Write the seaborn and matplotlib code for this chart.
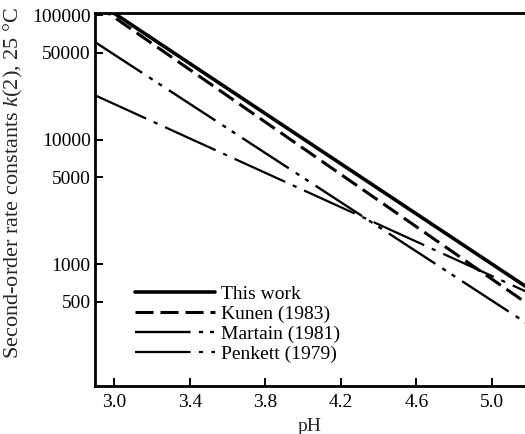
import matplotlib
matplotlib.use("Agg")
import matplotlib.pyplot as plt
import seaborn as sns
import numpy as np

# pH end points of each fitted line and the rate constants at those points
ph_ends = [2.9, 5.2]
k_this_work = [130000, 630]
k_kunen = [122000, 467]
k_martain = [60300, 323]
k_penkett = [22600, 584]

series_names = ["This work", "Kunen (1983)", "Martain (1981)", "Penkett (1979)"]

x_ticks = [3.0, 3.4, 3.8, 4.2, 4.6, 5.0]
x_tick_labels = ["3.0", "3.4", "3.8", "4.2", "4.6", "5.0"]
y_ticks = [500, 1000, 5000, 10000, 50000, 100000]
y_tick_labels = ["500", "1000", "5000", "10000", "50000", "100000"]

sns.set_theme(style="ticks")
plt.rcParams["font.family"] = ["Liberation Serif", "DejaVu Serif"]
plt.rcParams["mathtext.fontset"] = "custom"
plt.rcParams["mathtext.rm"] = "Liberation Serif"
plt.rcParams["mathtext.it"] = "Liberation Serif:italic"
plt.rcParams["lines.scale_dashes"] = False

fig = plt.figure(figsize=(5.25, 4.34), dpi=100)
ax = fig.add_axes([95 / 525, 1 - 386 / 434, 1 - 95 / 525, (386 - 13) / 434])

styles = [
    dict(lw=2.6, linestyle="-"),
    dict(lw=2.2, linestyle=(0, (13, 5))),
    dict(lw=1.7, linestyle=(0, (40, 6, 3, 5, 3, 6))),
    dict(lw=1.6, linestyle=(0, (40, 6, 3, 6))),
]
values = [k_this_work, k_kunen, k_martain, k_penkett]

for name, vals, st in zip(series_names, values, styles):
    sns.lineplot(x=ph_ends, y=vals, ax=ax, color="black", label=name, **st)

ax.set_yscale("log")
ax.set_xlim(2.897, 5.175)
ax.set_ylim(105, 104000)

ax.set_xticks(x_ticks)
ax.set_xticklabels(x_tick_labels)
ax.set_yticks(y_ticks)
ax.set_yticklabels(y_tick_labels)
ax.minorticks_off()
ax.tick_params(axis="both", direction="in", length=6, width=1.4,
               labelsize=14, colors="black")
ax.tick_params(axis="y", pad=3)
ax.tick_params(axis="x", pad=6)

for side in ["left", "top", "bottom"]:
    ax.spines[side].set_visible(True)
    ax.spines[side].set_linewidth(2.0)
    ax.spines[side].set_color("black")
ax.spines["right"].set_visible(False)

ax.set_xlabel("pH", fontsize=14, labelpad=0)
ax.set_ylabel("Second-order rate constants $k$(2), 25 \u00b0C", fontsize=16)
ax.yaxis.set_label_coords(-0.163, 0.545)
ax.xaxis.set_label_coords(0.5, -0.085)

leg = ax.legend(loc="upper left", bbox_to_anchor=(135 / 525, 1 - 285 / 434),
                bbox_transform=fig.transFigure, frameon=False, fontsize=14,
                handlelength=4.1, handletextpad=0.3, labelspacing=0.12,
                borderpad=0, borderaxespad=0)
for t in leg.get_texts():
    t.set_color("black")

fig.savefig("out.png", dpi=100, facecolor="white")
